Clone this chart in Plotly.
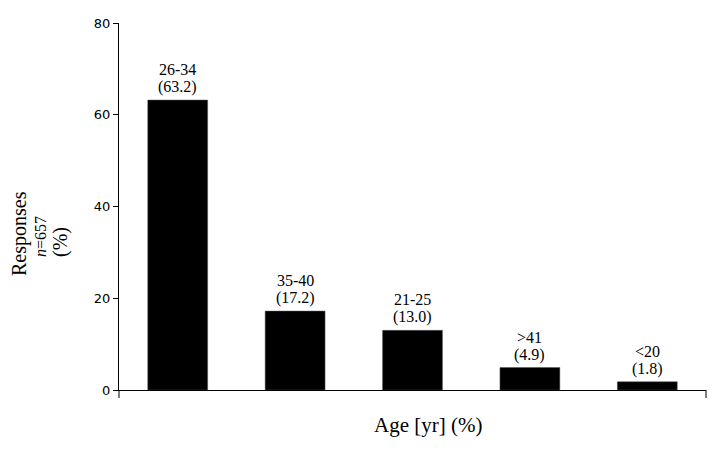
import plotly.graph_objects as go

categories = ["26-34", "35-40", "21-25", ">41", "<20"]
values = [63.2, 17.2, 13.0, 4.9, 1.8]
y_ticks = [0, 20, 40, 60, 80]

# page body has an 8px margin, so the figure starts at (8, 8)
OFF = 8
W, H = 707, 440
ML, MR, MT, MB = 111, 9, 15, 58
plot_w = W - ML - MR
plot_h = H - MT - MB

def px_to_paper_x(px):
    return (px - OFF - ML) / plot_w

def px_to_paper_y(py):
    return (H - MB - (py - OFF)) / plot_h

fig = go.Figure()
fig.add_trace(go.Bar(
    x=categories, y=values,
    marker=dict(color="black", line=dict(color="#555555", width=0.5)),
    width=0.51,
    hoverinfo="skip",
))

serif = "Liberation Serif, Times New Roman, serif"
annotations = []
for c, v in zip(categories, values):
    annotations.append(dict(x=c, y=v, xref="x", yref="y", text=f"({v:.1f})",
                            showarrow=False, yanchor="bottom", yshift=2,
                            font=dict(family=serif, size=16, color="black")))
    annotations.append(dict(x=c, y=v, xref="x", yref="y", text=c,
                            showarrow=False, yanchor="bottom", yshift=20,
                            font=dict(family=serif, size=16, color="black")))

annotations.append(dict(x=px_to_paper_x(428), y=px_to_paper_y(425), xref="paper", yref="paper",
                        text="Age [yr] (%)", showarrow=False,
                        font=dict(family=serif, size=21, color="black"),
                        xanchor="center", yanchor="middle"))

for txt, xc, yc, sz in [("Responses", 20, 234, 20),
                        ("<i>n</i>=657", 41, 237, 16),
                        ("(%)", 60, 242, 20)]:
    annotations.append(dict(x=px_to_paper_x(xc), y=px_to_paper_y(yc), xref="paper", yref="paper",
                            text=txt, textangle=-90, showarrow=False,
                            xanchor="center", yanchor="middle", borderpad=0,
                            font=dict(family=serif, size=sz, color="black")))
fig.update_layout(annotations=annotations)

# small axis extensions at the ends of the category axis
fig.add_shape(type="line", xref="paper", yref="paper", x0=0, x1=0, y0=0, y1=-8 / plot_h,
              line=dict(color="black", width=1))
fig.add_shape(type="line", xref="paper", yref="paper", x0=1, x1=1, y0=0, y1=-8 / plot_h,
              line=dict(color="black", width=1))

fig.update_layout(
    width=W, height=H,
    margin=dict(l=ML, r=MR, t=MT, b=MB, autoexpand=False),
    paper_bgcolor="white", plot_bgcolor="white",
    showlegend=False,
    bargap=0.49,
    xaxis=dict(showline=True, linecolor="black", linewidth=1, showticklabels=False,
               ticks="", showgrid=False, zeroline=False),
    yaxis=dict(range=[0, 80], tickvals=y_ticks, showline=True, linecolor="black", linewidth=1,
               ticks="outside", ticklen=5, tickcolor="black", showgrid=False, zeroline=False,
               tickfont=dict(family="DejaVu Sans, Verdana, sans-serif", size=13, color="black")),
)

fig.write_html("out.html")
